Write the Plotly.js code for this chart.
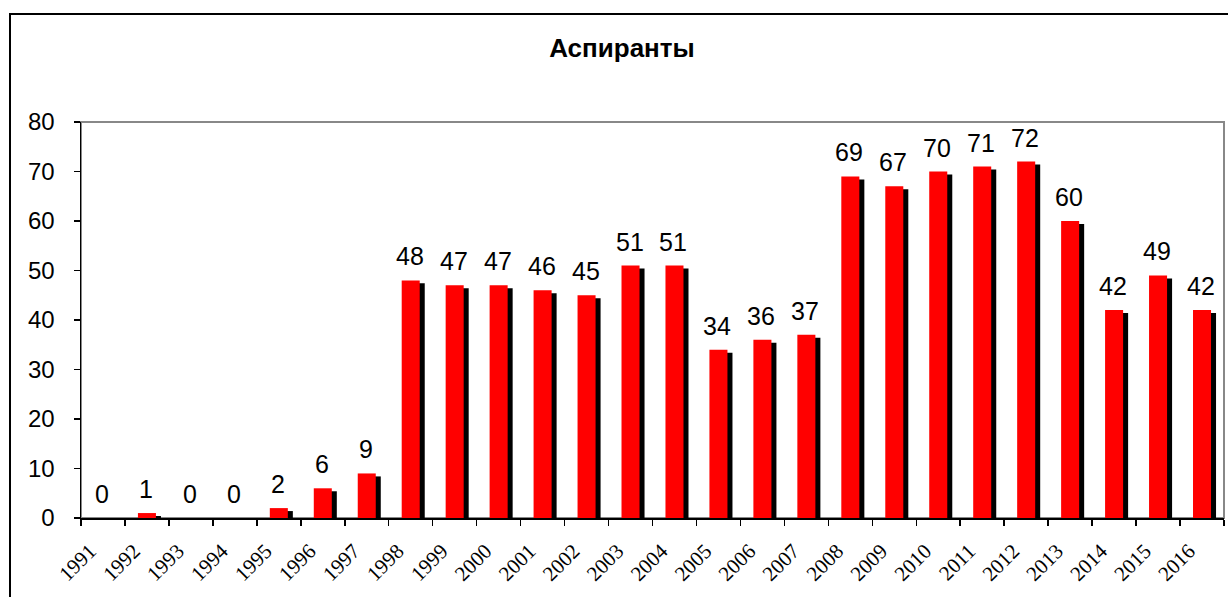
<!DOCTYPE html>
<html>
<head>
<meta charset="utf-8">
<script src="https://cdn.plot.ly/plotly-3.0.1.min.js"></script>
<style>
  html, body { margin: 0; padding: 0; width: 1228px; height: 597px; overflow: hidden; background: #fff; }
  #frame { position: absolute; left: 9px; top: 13px; width: 1260px; height: 640px; border: 2px solid #000; box-sizing: border-box; }
  #chart { position: absolute; left: 0; top: 0; width: 1228px; height: 597px; }
</style>
</head>
<body>
<div id="frame"></div>
<div id="chart"></div>
<script>
const chartTitle = 'Аспиранты';
const years = ['1991','1992','1993','1994','1995','1996','1997','1998','1999','2000','2001','2002','2003','2004','2005','2006','2007','2008','2009','2010','2011','2012','2013','2014','2015','2016'];
const students = [0,1,0,0,2,6,9,48,47,47,46,45,51,51,34,36,37,69,67,70,71,72,60,42,49,42];
const yTicks = [0,10,20,30,40,50,60,70,80];

const barW = 0.41;

const shadow = {
  type: 'bar', x: years, y: students,
  xaxis: 'x', yaxis: 'y',
  width: barW, offset: -barW/2 + 0.114,
  marker: { color: '#000000', line: { width: 0 } },
  hoverinfo: 'skip', showlegend: false
};
const bars = {
  type: 'bar', x: years, y: students,
  xaxis: 'x', yaxis: 'y2',
  width: barW, offset: -barW/2,
  marker: { color: '#FF0000', line: { width: 0 } },
  showlegend: false
};

const annotations = years.map((yr, i) => ({
  x: i, y: students[i], xref: 'x', yref: 'y2',
  text: String(students[i]), showarrow: false,
  xanchor: 'center', yanchor: 'bottom', yshift: 8, xshift: -1,
  font: { family: 'Liberation Sans, Arial, sans-serif', size: 25, color: '#000' }
}));

const layout = {
  width: 1228, height: 597,
  margin: { l: 81, r: 4, t: 122, b: 79 },
  paper_bgcolor: 'rgba(0,0,0,0)',
  plot_bgcolor: 'rgba(0,0,0,0)',
  barmode: 'overlay',
  title: {
    text: '<b>' + chartTitle + '</b>',
    font: { family: 'Liberation Sans, Arial, sans-serif', size: 26, color: '#000' },
    xref: 'container', yref: 'container', x: 0.5065, y: 1 - 48/597,
    xanchor: 'center', yanchor: 'middle'
  },
  xaxis: {
    type: 'category', range: [-0.5, 25.5],
    tickson: 'boundaries', ticks: 'outside', ticklen: 6, tickwidth: 1.5, tickcolor: '#000',
    showline: true, linecolor: '#000', linewidth: 1.5,
    showgrid: false, zeroline: false,
    tickangle: -45,
    ticklabelstandoff: 11, ticklabelshift: -13,
    tickfont: { family: 'Liberation Serif, Times New Roman, serif', size: 21, color: '#000' }
  },
  yaxis: {
    range: [0.6, 80.6], visible: false, fixedrange: true
  },
  yaxis2: {
    overlaying: 'y', side: 'left', range: [0, 80],
    tickvals: yTicks, ticktext: yTicks.map(String),
    ticks: 'outside', ticklen: 6, tickwidth: 1.5, tickcolor: '#000',
    showline: true, linecolor: '#000', linewidth: 1.5,
    showgrid: false, zeroline: false,
    ticklabelstandoff: 14,
    tickfont: { family: 'Liberation Sans, Arial, sans-serif', size: 24, color: '#000' }
  },
  shapes: [{
    type: 'rect', xref: 'paper', yref: 'paper', x0: 0, x1: 1, y0: 0, y1: 1,
    line: { color: '#888888', width: 2 }, layer: 'below'
  }],
  annotations: annotations
};

Plotly.newPlot('chart', [shadow, bars], layout, { displayModeBar: false, staticPlot: true });
</script>
</body>
</html>
